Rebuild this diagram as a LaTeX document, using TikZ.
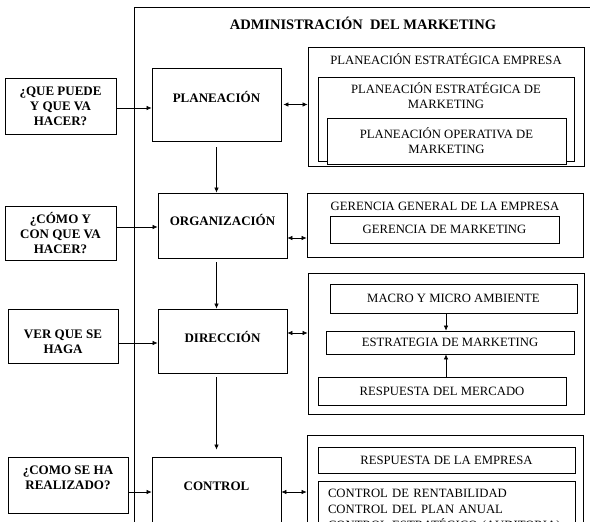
\documentclass[tikz,border=0pt]{standalone}
\usepackage{fontspec}
\setmainfont{Liberation Serif}
\usetikzlibrary{arrows.meta,positioning}

\begin{document}
\begin{tikzpicture}[
  x=1pt, y=-1pt,
  font=\fontsize{12.7}{15}\selectfont,
  frame/.style={draw, line width=0.8pt, inner sep=0pt},
  asktext/.style={font=\bfseries\fontsize{13}{15}\selectfont, align=center, inner sep=0pt},
  ask/.style n args={2}{frame, label={[asktext, anchor=center, yshift=#1]center:#2}},
  stage/.style n args={2}{frame, minimum width=129, label={[asktext, anchor=center, yshift=#1]center:#2}},
  group/.style={frame, minimum width=276},
  head/.style={anchor=base, inner sep=0pt, yshift=-18pt},
  item/.style={frame, fill=white, align=center},
  >={Latex[length=5pt,width=4.5pt]},
  link/.style={->, line width=0.6pt},
  both/.style={<->, line width=0.6pt},
]
\useasboundingbox (0,0) rectangle (590,522);
\clip (0,0) rectangle (590,522);
\node[frame, anchor=north west, minimum width=480, minimum height=530] (adm) at (134,7) {};
\node[font=\bfseries\fontsize{14.5}{16}\selectfont] (title) at (363,23) {ADMINISTRACIÓN\ \ DEL MARKETING};

\node[ask={0pt}{¿QUE PUEDE\\Y QUE VA\\HACER?}, minimum width=111, minimum height=56] (q1) at (60.5,106) {};
\node[ask={0pt}{¿CÓMO Y\\CON QUE VA\\HACER?}, minimum width=111, minimum height=54] (q2) at (60.5,233) {};
\node[ask={-6pt}{VER QUE SE\\HAGA}, minimum width=110, minimum height=54] (q3) at (63,336) {};
\node[ask={7pt}{¿COMO SE HA\\REALIZADO?}, minimum width=120, minimum height=56] (q4) at (68,485) {};

\node[stage={7.5pt}{PLANEACIÓN}, minimum height=73] (plan) at (216.5,104.5) {};
\node[stage={5.5pt}{ORGANIZACIÓN}, minimum height=65] (org) at (222.5,225.5) {};
\node[stage={4pt}{DIRECCIÓN}, minimum height=64] (dir) at (222.5,341) {};
\node[stage={11pt}{CONTROL}, minimum height=80] (ctrl) at (216.5,497) {};

\node[group, minimum height=119, label={[head]north:PLANEACIÓN ESTRATÉGICA EMPRESA}] (r1) at (446,106.5) {};
\node[item, minimum width=256, minimum height=84,
      label={[align=center, anchor=center, inner sep=0pt, yshift=23.5pt]center:PLANEACIÓN ESTRATÉGICA DE\\MARKETING}] (pem) at (446,119) {};
\node[item, minimum width=239, minimum height=46] (pom) at (446.5,141) {PLANEACIÓN OPERATIVA DE\\MARKETING};

\node[group, minimum height=64, label={[head]north:GERENCIA GENERAL DE LA EMPRESA}] (r2) at (445,225) {};
\node[item, minimum width=229, minimum height=27] (gm) at (444.5,229.5) {GERENCIA DE MARKETING};

\node[group, minimum height=141] (r3) at (446,343.5) {};
\node[item, minimum width=247, minimum height=29] (macro) at (453.5,298.5) {MACRO Y MICRO AMBIENTE};
\node[item, minimum width=248, minimum height=23] (estr) at (450,342.5) {ESTRATEGIA DE MARKETING};
\node[item, minimum width=248, minimum height=28] (resp) at (442,391) {RESPUESTA DEL MERCADO};

\node[group, minimum height=100] (r4) at (445,485) {};
\node[item, minimum width=257, minimum height=26] (remp) at (446.5,460) {RESPUESTA DE LA EMPRESA};
\node[item, minimum width=257, minimum height=60, text width=237, align=left,
      font=\fontsize{12.7}{16}\selectfont] (cl) at (446.5,511)
  {CONTROL DE RENTABILIDAD\\CONTROL DEL PLAN ANUAL\\CONTROL ESTRATÉGICO (AUDITORIA)};

\draw[link] ([yshift=-2pt]q1.east) -- ([yshift=-2pt]q1.east -| plan.west);
\draw[link] ([yshift=6pt]q2.east) -- ([yshift=6pt]q2.east -| org.west);
\draw[link] ([yshift=-7pt]q3.east) -- ([yshift=-7pt]q3.east -| dir.west);
\draw[link] ([yshift=-7pt]q4.east) -- ([yshift=-7pt]q4.east -| ctrl.west);

\draw[link, shorten <=6pt] (plan.south) -- (plan.south |- org.north);
\draw[link, shorten <=4pt] (plan.south |- org.south) -- (plan.south |- dir.north);
\draw[link, shorten <=4pt, shorten >=7pt] (plan.south |- dir.south) -- (plan.south |- ctrl.north);

\draw[both] ([xshift=2pt]plan.east) -- (plan.east -| r1.west);
\draw[both] ([yshift=-12.5pt]org.east) -- ([yshift=-12.5pt]org.east -| r2.west);
\draw[both] ([yshift=8pt]dir.east) -- ([yshift=8pt]dir.east -| r3.west);
\draw[both] ([yshift=5pt]ctrl.east) -- ([yshift=5pt]ctrl.east -| r4.west);

\draw[link] (r3.center |- macro.south) -- (r3.center |- estr.north);
\draw[link] (r3.center |- resp.north) -- (r3.center |- estr.south);
\end{tikzpicture}
\end{document}
